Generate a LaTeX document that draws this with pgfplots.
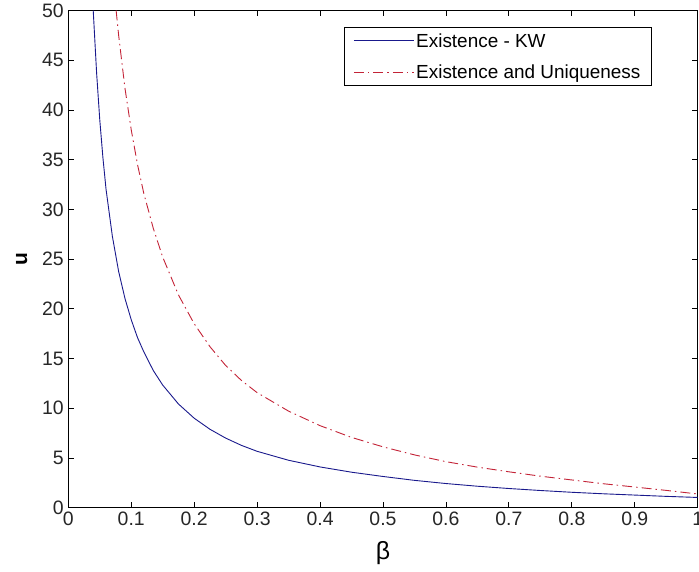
\documentclass[border=0pt]{standalone}
\usepackage{fontspec}
\setmainfont{Liberation Sans}
\usepackage{pgfplots}
\pgfplotsset{compat=1.18}
\definecolor{kwblue}{RGB}{25,25,140}
\definecolor{eured}{RGB}{195,35,55}
\begin{document}
\begin{tikzpicture}
\begin{axis}[
  name=ax,
  scale only axis,
  width=629.4bp, height=497.2bp,
  xmin=0, xmax=1, ymin=0, ymax=50,
  xtick={0,0.1,...,1.0},
  ytick={0,5,...,50},
  xticklabels={0,0.1,0.2,0.3,0.4,0.5,0.6,0.7,0.8,0.9,1},
  tick pos=both, tick align=inside,
  major tick length=6bp,
  tick style={black, line width=0.8bp},
  axis line style={black, line width=0.8bp},
  /pgf/number format/assume math mode=true,
  tick label style={font=\fontsize{19.5}{21}\selectfont, color=black!85},
  xticklabel style={yshift=-1bp},
  yticklabel style={xshift=-1bp},
  xlabel={β},
  ylabel={\textbf{u}},
  xlabel style={font=\fontsize{25}{27}\selectfont, yshift=-9bp},
  ylabel style={font=\fontsize{21}{23}\selectfont, yshift=8bp},
  legend style={at={(0.927,0.967)}, anchor=north east, draw=black, line width=0.8bp,
    font=\fontsize{19}{21}\selectfont, inner xsep=9bp, inner ysep=6bp,
    row sep=16bp, column sep=0bp, cells={anchor=west},
    nodes={inner xsep=2bp, inner ysep=0bp}},
  legend image code/.code={\draw[#1] (0bp,0bp) -- (60bp,0bp);},
]
\addplot[kwblue, line width=0.9bp] coordinates {
(0.0396,50) (0.045,43.7) (0.05,39.0) (0.055,35.2) (0.06,32.0) (0.07,27.3)
(0.08,23.75) (0.09,21.05) (0.1,18.9) (0.11,17.1) (0.12,15.67) (0.135,13.8)
(0.15,12.33) (0.175,10.43) (0.2,9.0) (0.225,7.89) (0.25,7.0) (0.275,6.27)
(0.3,5.67) (0.35,4.77) (0.4,4.10) (0.45,3.57) (0.5,3.14) (0.55,2.75)
(0.6,2.43) (0.65,2.16) (0.7,1.93) (0.75,1.73) (0.8,1.55) (0.85,1.40)
(0.9,1.27) (0.95,1.14) (1.0,1.03)};
\addlegendentry{Existence - KW}
\addplot[eured, line width=0.9bp, dash pattern=on 10bp off 4bp on 1.5bp off 4bp] coordinates {
(0.076,50) (0.08,47.5) (0.09,42.2) (0.1,38.0) (0.11,34.5) (0.12,31.6)
(0.135,28.1) (0.15,25.2) (0.175,21.4) (0.2,18.5) (0.225,16.2) (0.25,14.3)
(0.275,12.8) (0.3,11.57) (0.35,9.71) (0.4,8.25) (0.45,7.07) (0.5,6.12)
(0.55,5.31) (0.6,4.63) (0.65,4.08) (0.7,3.61) (0.75,3.17) (0.8,2.79)
(0.85,2.41) (0.9,2.08) (0.95,1.74) (1.0,1.38)};
\addlegendentry{Existence and Uniqueness}
\end{axis}
\pgfresetboundingbox
\path[use as bounding box] ([shift={(-68.3bp,-64.3bp)}]ax.south west) rectangle ([shift={(1.3bp,10.5bp)}]ax.north east);
\end{tikzpicture}
\end{document}
